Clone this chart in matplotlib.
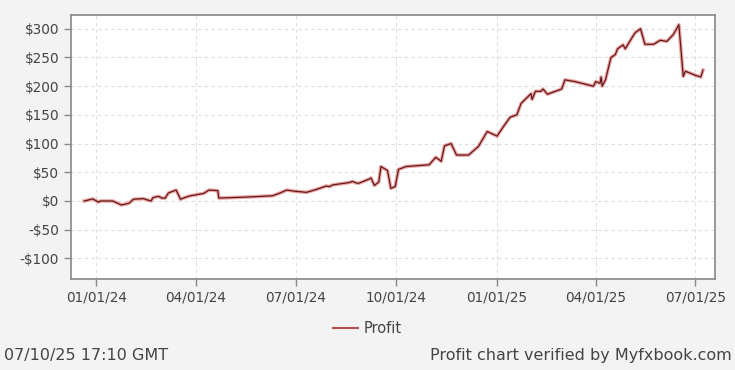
import matplotlib
matplotlib.use("Agg")
import matplotlib.pyplot as plt
import matplotlib.dates as mdates
import numpy as np

dates = ["2023-12-21", "2023-12-29", "2024-01-03", "2024-01-05", "2024-01-16",
         "2024-01-24", "2024-01-31", "2024-02-04", "2024-02-13", "2024-02-20",
         "2024-02-22", "2024-02-27", "2024-03-01", "2024-03-04", "2024-03-07",
         "2024-03-14", "2024-03-18", "2024-03-22", "2024-03-27", "2024-04-08",
         "2024-04-13", "2024-04-21", "2024-04-22", "2024-05-20", "2024-06-10",
         "2024-06-17", "2024-06-23", "2024-06-30", "2024-07-11", "2024-07-20",
         "2024-07-29", "2024-08-01", "2024-08-04", "2024-08-19", "2024-08-22",
         "2024-08-26", "2024-08-28", "2024-09-06", "2024-09-08", "2024-09-11",
         "2024-09-15", "2024-09-17", "2024-09-23", "2024-09-26", "2024-09-30",
         "2024-10-03", "2024-10-10", "2024-10-31", "2024-11-06", "2024-11-09",
         "2024-11-11", "2024-11-14", "2024-11-20", "2024-11-25", "2024-12-06",
         "2024-12-15", "2024-12-23", "2025-01-01", "2025-01-07", "2025-01-13",
         "2025-01-19", "2025-01-23", "2025-02-01", "2025-02-02", "2025-02-05",
         "2025-02-10", "2025-02-12", "2025-02-16", "2025-03-01", "2025-03-04",
         "2025-03-13", "2025-03-30", "2025-04-01", "2025-04-05", "2025-04-06",
         "2025-04-07", "2025-04-10", "2025-04-15", "2025-04-19", "2025-04-21",
         "2025-04-26", "2025-04-28", "2025-05-07", "2025-05-12", "2025-05-16",
         "2025-05-24", "2025-05-30", "2025-06-05", "2025-06-11", "2025-06-16",
         "2025-06-20", "2025-06-22", "2025-07-01", "2025-07-06", "2025-07-08"]
profit = [0, 3.5, -2, 0, 0,
          -7, -4, 3, 4, 0,
          6, 8, 5, 5, 14,
          19, 3, 6, 9, 13,
          19, 18, 5, 7, 9,
          14, 19, 17, 15, 20,
          26, 25, 28, 32, 34,
          31, 31, 38, 40, 27,
          33, 60, 53, 22, 25,
          55, 60, 63, 76, 72,
          69, 96, 100, 80, 80,
          95, 121, 113, 130, 146,
          150, 170, 187, 177, 191,
          191, 195, 186, 195, 211,
          208, 200, 208, 205, 216,
          200, 211, 250, 255, 265,
          272, 265, 293, 300, 273,
          273, 280, 278, 290, 307,
          217, 226, 219, 216, 228]

x = np.array(dates, dtype="datetime64[D]")
ticks = np.array(["2024-01-01", "2024-04-01", "2024-07-01", "2024-10-01",
                  "2025-01-01", "2025-04-01", "2025-07-01"], dtype="datetime64[D]")

fig = plt.figure(figsize=(7.35, 3.7), dpi=100, facecolor="#f3f3f3")
ax = fig.add_axes([0.0966, 0.2459, 0.8762, 0.7136])
ax.set_facecolor("white")

# soft red glow under a dark line
ax.plot(x, profit, color="#e03535", lw=2.6, alpha=0.45, solid_joinstyle="round")
line, = ax.plot(x, profit, color="#5e1a1a", lw=0.9, label="Profit")

ax.set_xlim(np.datetime64("2023-12-09"), np.datetime64("2025-07-19"))
ax.set_ylim(-136, 324)
ax.set_yticks(np.arange(-100, 301, 50))
ax.set_yticklabels([("-$%d" % -v) if v < 0 else ("$%d" % v) for v in np.arange(-100, 301, 50)])
ax.set_xticks(ticks)
ax.xaxis.set_major_formatter(mdates.DateFormatter("%m/%d/%y"))

ax.grid(True, color="#dedede", ls=(0, (3, 3)), lw=0.8)
for s in ax.spines.values():
    s.set_color("#888888")
    s.set_linewidth(1.2)
ax.tick_params(colors="#888888", labelcolor="#444444", labelsize=9.8, length=5, width=1)

leg = fig.legend(handles=[line], loc="center", bbox_to_anchor=(0.5, 0.113),
                 frameon=False, fontsize=10.5, handlelength=1.7, handletextpad=0.4)
for t in leg.get_texts():
    t.set_color("#444444")
leg.get_lines()[0].set_color("#b05050")
leg.get_lines()[0].set_linewidth(1.5)

fig.text(0.005, 0.04, "07/10/25 17:10 GMT", fontsize=11.5, color="#444444", va="center")
fig.text(0.995, 0.04, "Profit chart verified by Myfxbook.com", fontsize=11.5,
         color="#444444", va="center", ha="right")

fig.savefig("out.png", dpi=100, facecolor=fig.get_facecolor())
